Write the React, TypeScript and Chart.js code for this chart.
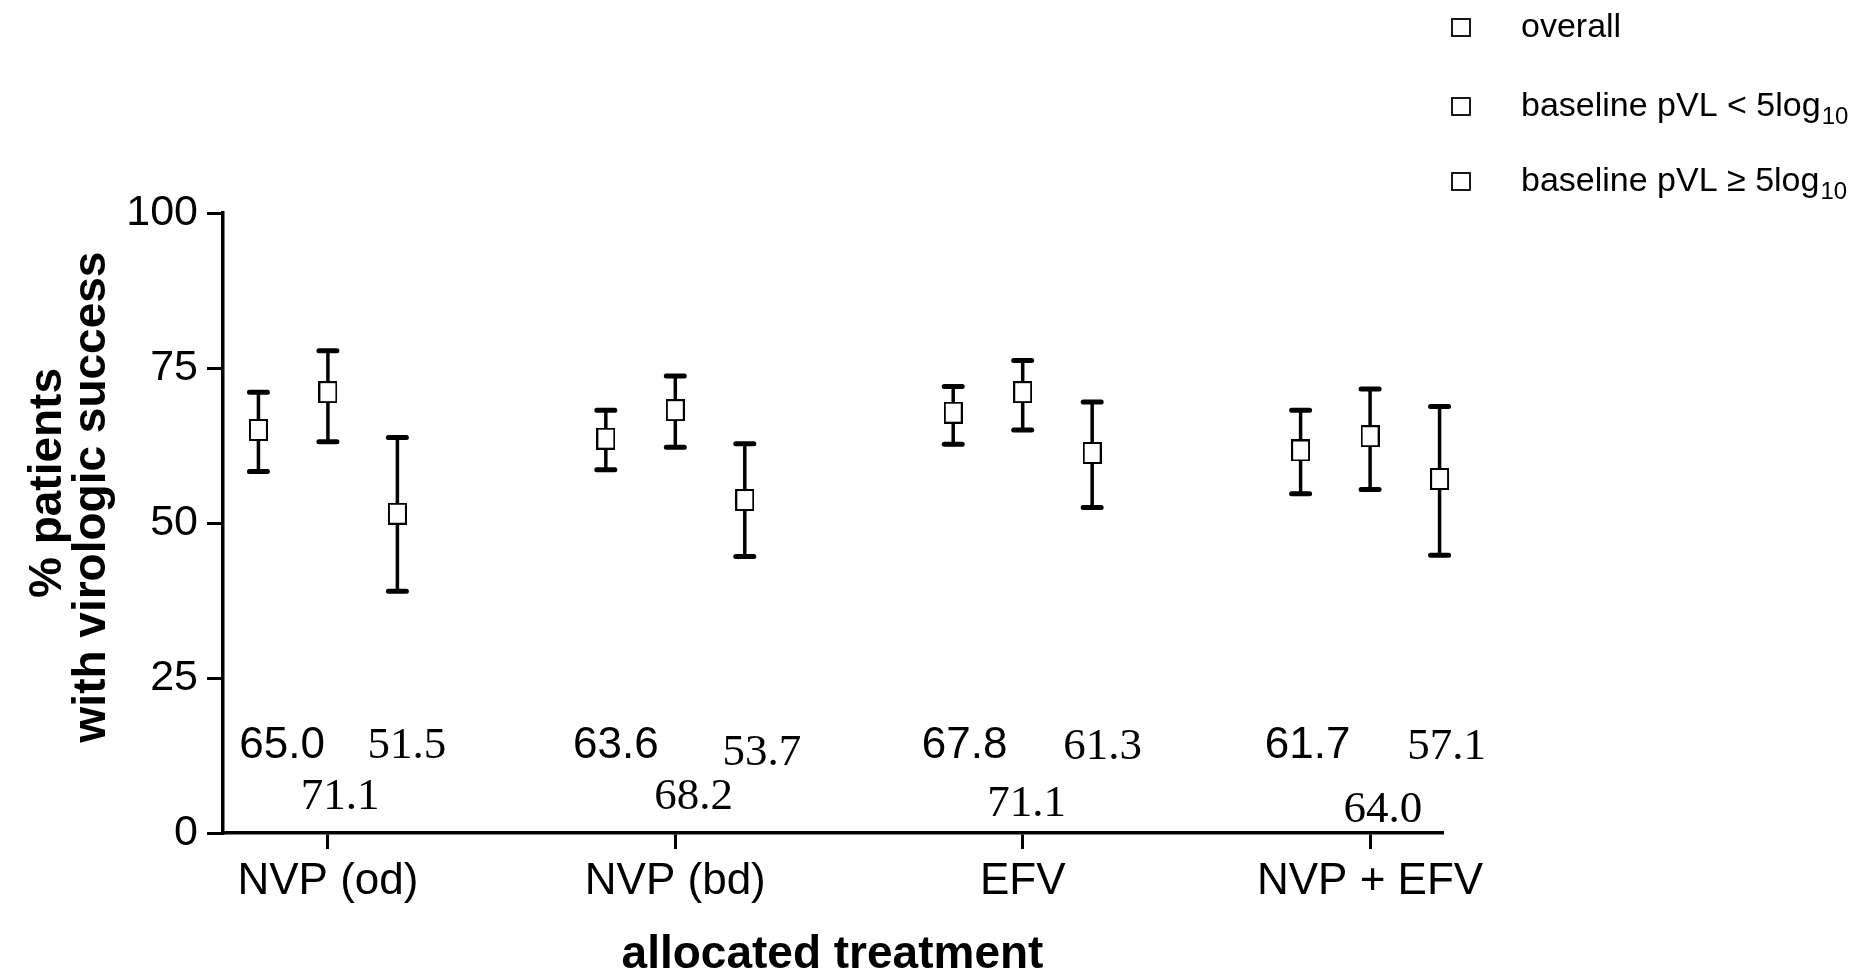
import React, { useEffect, useRef } from "react";
import { Chart, registerables } from "chart.js";

Chart.register(...registerables);

// ---------- data ----------
const categories = ["NVP (od)", "NVP (bd)", "EFV", "NVP + EFV"];
const seriesLabels = ["overall", "baseline pVL < 5log", "baseline pVL \u2265 5log"];
const seriesSubscripts = ["", "10", "10"];

const overallMean = [65.0, 63.6, 67.8, 61.7];
const overallLow = [58.3, 58.6, 62.7, 54.7];
const overallHigh = [71.1, 68.2, 72.0, 68.2];

const lowVLMean = [71.1, 68.2, 71.1, 64.0];
const lowVLLow = [63.1, 62.2, 65.0, 55.4];
const lowVLHigh = [77.8, 73.7, 76.2, 71.6];

const highVLMean = [51.5, 53.7, 61.3, 57.1];
const highVLLow = [39.0, 44.6, 52.5, 44.8];
const highVLHigh = [63.8, 62.8, 69.5, 68.8];

const yTicks = [0, 25, 50, 75, 100];

// value-label placement (data units)
const overallLabelX = [0.868, 1.829, 2.833, 3.82];
const overallLabelY = [12.1, 12.1, 12.1, 12.1];
const lowVLLabelX = [1.035, 2.053, 3.011, 4.037];
const lowVLLabelY = [3.87, 3.87, 2.74, 1.77];
const highVLLabelX = [1.227, 2.249, 3.23, 4.22];
const highVLLabelY = [12.1, 11.0, 11.9, 11.9];

const SANS = "'Liberation Sans', Arial, sans-serif";
const SERIF = "'Liberation Serif', 'Times New Roman', serif";

function makeMarker(w: number, h: number, lw: number) {
  const c = document.createElement("canvas");
  c.width = w;
  c.height = h;
  const ctx = c.getContext("2d")!;
  ctx.fillStyle = "#fff";
  ctx.fillRect(0, 0, w, h);
  ctx.strokeStyle = "#000";
  ctx.lineWidth = lw;
  ctx.strokeRect(lw / 2, lw / 2, w - lw, h - lw);
  return c;
}

const errorBarPlugin = {
  id: "errorBars",
  beforeDatasetsDraw(chart: any) {
    const { ctx } = chart;
    const x = chart.scales.x;
    const y = chart.scales.y;
    ctx.save();
    ctx.strokeStyle = "#000";
    chart.data.datasets.forEach((ds: any) => {
      ds.data.forEach((p: any) => {
        const px = x.getPixelForValue(p.x);
        const yl = y.getPixelForValue(p.lo);
        const yh = y.getPixelForValue(p.hi);
        ctx.lineWidth = 3.5;
        ctx.lineCap = "butt";
        ctx.beginPath();
        ctx.moveTo(px, yh);
        ctx.lineTo(px, yl);
        ctx.stroke();
        ctx.lineWidth = 5;
        ctx.lineCap = "round";
        ctx.beginPath();
        ctx.moveTo(px - 9, yh);
        ctx.lineTo(px + 9, yh);
        ctx.moveTo(px - 9, yl);
        ctx.lineTo(px + 9, yl);
        ctx.stroke();
      });
    });
    ctx.restore();
  },
};

const valueLabelPlugin = {
  id: "valueLabels",
  afterDatasetsDraw(chart: any) {
    const { ctx } = chart;
    const x = chart.scales.x;
    const y = chart.scales.y;
    const groups = [
      { vals: overallMean, xs: overallLabelX, ys: overallLabelY, font: `44px ${SANS}` },
      { vals: lowVLMean, xs: lowVLLabelX, ys: lowVLLabelY, font: `45px ${SERIF}` },
      { vals: highVLMean, xs: highVLLabelX, ys: highVLLabelY, font: `45px ${SERIF}` },
    ];
    ctx.save();
    ctx.fillStyle = "#000";
    ctx.textAlign = "center";
    ctx.textBaseline = "alphabetic";
    groups.forEach((g) => {
      ctx.font = g.font;
      g.vals.forEach((v, i) => {
        ctx.fillText(v.toFixed(1), x.getPixelForValue(g.xs[i]), y.getPixelForValue(g.ys[i]));
      });
    });
    ctx.restore();
  },
};

const legendPlugin = {
  id: "customLegend",
  afterDraw(chart: any) {
    const { ctx } = chart;
    const rowsY = [37, 116, 191];
    ctx.save();
    ctx.textAlign = "left";
    ctx.textBaseline = "alphabetic";
    seriesLabels.forEach((label, i) => {
      const by = rowsY[i];
      ctx.fillStyle = "#fff";
      ctx.fillRect(1452, by - 18, 18, 17);
      ctx.strokeStyle = "#000";
      ctx.lineWidth = 1.8;
      ctx.strokeRect(1452, by - 18, 18, 17);
      ctx.fillStyle = "#000";
      ctx.font = `34px ${SANS}`;
      ctx.fillText(label, 1521, by);
      if (seriesSubscripts[i]) {
        const w = ctx.measureText(label).width;
        ctx.font = `24px ${SANS}`;
        ctx.fillText(seriesSubscripts[i], 1521 + w + 1, by + 8);
      }
    });
    ctx.restore();
  },
};

const yTitlePlugin = {
  id: "yTitle",
  afterDraw(chart: any) {
    const { ctx } = chart;
    ctx.save();
    ctx.fillStyle = "#000";
    ctx.font = `bold 46px ${SANS}`;
    ctx.textAlign = "center";
    ctx.textBaseline = "alphabetic";
    ctx.save();
    ctx.translate(61, 483);
    ctx.rotate(-Math.PI / 2);
    ctx.fillText("% patients", 0, 0);
    ctx.restore();
    ctx.translate(105, 497);
    ctx.rotate(-Math.PI / 2);
    ctx.fillText("with virologic success", 0, 0);
    ctx.restore();
  },
};

export default function App() {
  const ref = useRef<HTMLCanvasElement | null>(null);

  useEffect(() => {
    document.body.style.margin = "0";
    const canvas = ref.current!;
    const marker = makeMarker(19, 22, 2);
    const offsets = [-0.2, 0, 0.2];
    const series = [
      [overallMean, overallLow, overallHigh],
      [lowVLMean, lowVLLow, lowVLHigh],
      [highVLMean, highVLLow, highVLHigh],
    ];
    const datasets = series.map(([m, lo, hi], s) => ({
      label: seriesLabels[s],
      data: m.map((v, i) => ({ x: i + 1 + offsets[s], y: v, lo: lo[i], hi: hi[i] })),
      pointStyle: marker as any,
      pointRadius: 11,
      showLine: false,
      clip: false as any,
    }));

    const chart = new Chart(canvas, {
      type: "scatter",
      data: { datasets },
      options: {
        animation: false,
        responsive: false,
        maintainAspectRatio: false,
        layout: { padding: { left: 0, top: 213, right: 424, bottom: 0 } },
        plugins: { legend: { display: false }, tooltip: { enabled: false } },
        scales: {
          x: {
            type: "linear",
            min: 0.698,
            max: 4.207,
            afterBuildTicks: (s: any) => {
              s.ticks = categories.map((_, i) => ({ value: i + 1 }));
            },
            afterFit: (s: any) => {
              s.height = 978 - 833;
            },
            ticks: {
              callback: (v: any) => categories[Number(v) - 1] ?? "",
              font: { family: SANS, size: 44 },
              color: "#000",
              padding: 6,
              maxRotation: 0,
              autoSkip: false,
            },
            grid: { drawOnChartArea: false, drawTicks: true, tickLength: 16, color: "#000", lineWidth: 3 },
            border: { display: true, color: "#000", width: 3.5 },
            title: {
              display: true,
              text: "allocated treatment",
              font: { family: SANS, size: 46, weight: "bold", lineHeight: 1 },
              color: "#000",
              padding: { top: 0, bottom: 0 },
            },
          },
          y: {
            min: 0,
            max: 100,
            afterBuildTicks: (s: any) => {
              s.ticks = yTicks.map((v) => ({ value: v }));
            },
            afterFit: (s: any) => {
              s.width = 223;
            },
            ticks: { font: { family: SANS, size: 43 }, color: "#000", padding: 9 },
            grid: { drawOnChartArea: false, drawTicks: true, tickLength: 16, color: "#000", lineWidth: 3 },
            border: { display: true, color: "#000", width: 3.5 },
          },
        },
      },
      plugins: [errorBarPlugin, valueLabelPlugin, legendPlugin, yTitlePlugin],
    } as any);

    return () => chart.destroy();
  }, []);

  return (
    <div style={{ position: "absolute", left: 0, top: 0, width: 1866, height: 978, background: "#fff" }}>
      <canvas ref={ref} width={1866} height={978} style={{ display: "block" }} />
    </div>
  );
}
